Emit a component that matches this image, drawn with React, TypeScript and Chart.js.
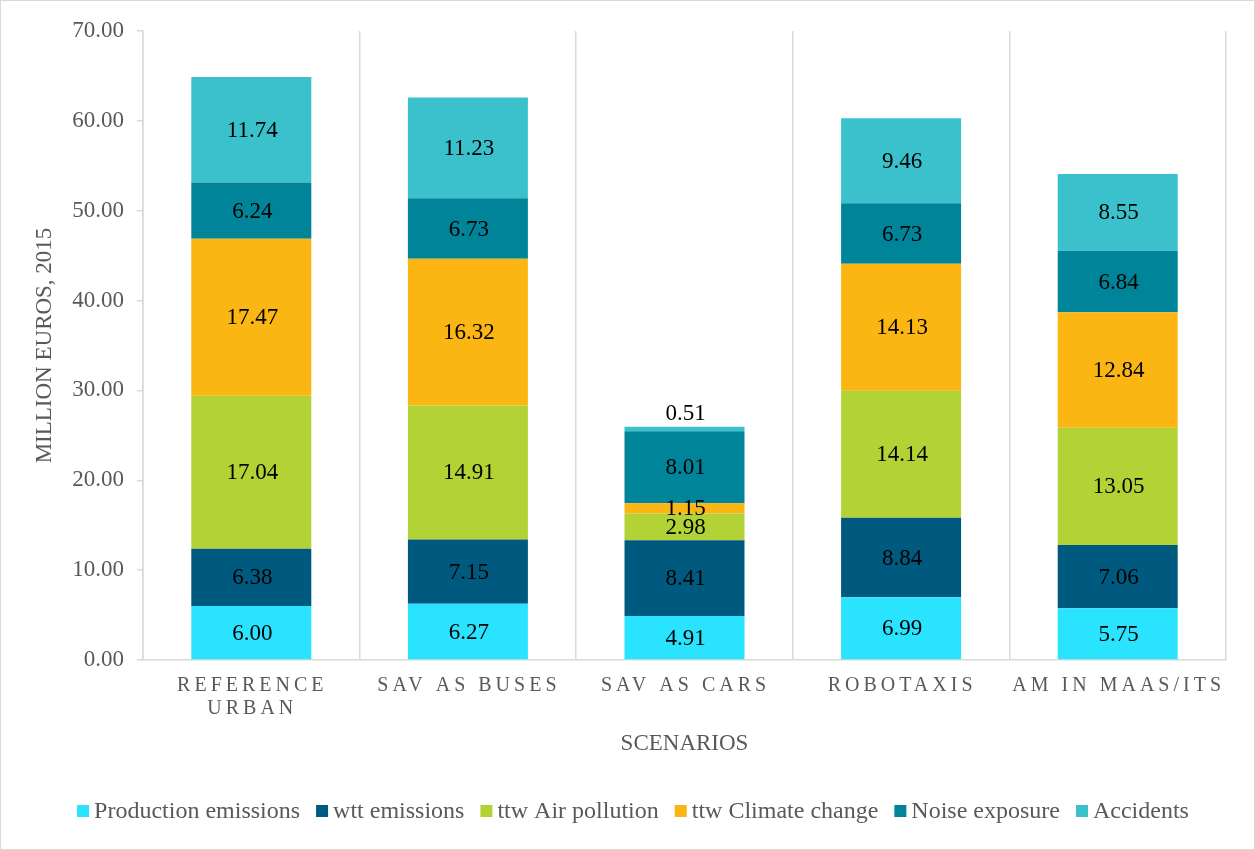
import React, { useEffect, useRef } from 'react';
import { Chart, registerables } from 'chart.js';

Chart.register(...registerables);

const categories: string[][] = [['REFERENCE', 'URBAN'], ['SAV AS BUSES'], ['SAV AS CARS'], ['ROBOTAXIS'], ['AM IN MAAS/ITS']];
const seriesNames = ['Production emissions', 'wtt emissions', 'ttw Air pollution', 'ttw Climate change', 'Noise exposure', 'Accidents'];
const productionEmissions = [6.0, 6.27, 4.91, 6.99, 5.75];
const wttEmissions = [6.38, 7.15, 8.41, 8.84, 7.06];
const ttwAirPollution = [17.04, 14.91, 2.98, 14.14, 13.05];
const ttwClimateChange = [17.47, 16.32, 1.15, 14.13, 12.84];
const noiseExposure = [6.24, 6.73, 8.01, 6.73, 6.84];
const accidents = [11.74, 11.23, 0.51, 9.46, 8.55];
const seriesColors = ['#29E3FF', '#005A7F', '#B2D235', '#FBB614', '#00849A', '#3BC1CC'];
const yMin = 0;
const yMax = 70;
const yStep = 10;

const FONT = "'Liberation Serif', 'Times New Roman', serif";
const GRAY = '#595959';
const LINE = '#d9d9d9';

const labelPlugin = {
  id: 'segLabels',
  afterDatasetsDraw(chart: any) {
    const ctx = chart.ctx;
    ctx.save();
    ctx.font = `23px ${FONT}`;
    ctx.fillStyle = '#000';
    ctx.textAlign = 'center';
    ctx.textBaseline = 'middle';
    const n = chart.data.datasets.length;
    chart.data.datasets.forEach((ds: any, di: number) => {
      const meta = chart.getDatasetMeta(di);
      meta.data.forEach((el: any, i: number) => {
        const v = ds.data[i];
        let y = (el.y + el.base) / 2;
        if (di === n - 1 && v < 1) y = el.y - 14;
        ctx.fillText(v.toFixed(2), el.x + 1, y + 1);
      });
    });
    ctx.restore();
  },
  afterDraw(chart: any) {
    const ctx = chart.ctx;
    const xs = chart.scales.x;
    // x tick labels with letter spacing
    ctx.save();
    ctx.font = `20px ${FONT}`;
    ctx.fillStyle = GRAY;
    ctx.textAlign = 'center';
    ctx.textBaseline = 'middle';
    (ctx as any).letterSpacing = '4px';
    categories.forEach((lines, i) => {
      const x = xs.getPixelForTick(i) + 1;
      lines.forEach((t, li) => {
        ctx.fillText(t, x, chart.chartArea.bottom + 26 + li * 23);
      });
    });
    ctx.restore();
    // legend
    ctx.save();
    ctx.font = `24px ${FONT}`;
    ctx.textBaseline = 'middle';
    ctx.textAlign = 'left';
    const box = 12;
    const gapBox = 5;
    const gapItem = 16;
    const widths = seriesNames.map((s) => ctx.measureText(s).width);
    const total = widths.reduce((a, w) => a + box + gapBox + w, 0) + gapItem * (seriesNames.length - 1);
    let x = 632 - total / 2;
    const cy = 810;
    seriesNames.forEach((s, i) => {
      ctx.fillStyle = seriesColors[i];
      ctx.fillRect(x, cy - box / 2, box, box);
      x += box + gapBox;
      ctx.fillStyle = GRAY;
      ctx.fillText(s, x, cy + 1);
      x += widths[i] + gapItem;
    });
    ctx.restore();
  },
};

export default function App() {
  const ref = useRef<HTMLCanvasElement>(null);
  useEffect(() => {
    if (!ref.current) return;
    const seriesData = [productionEmissions, wttEmissions, ttwAirPollution, ttwClimateChange, noiseExposure, accidents];
    const chart = new Chart(ref.current, {
      type: 'bar',
      data: {
        labels: categories.map((c) => c.join(' ')),
        datasets: seriesNames.map((name, i) => ({
          label: name,
          data: seriesData[i],
          backgroundColor: seriesColors[i],
          borderWidth: 0,
          barPercentage: 0.554,
          categoryPercentage: 1,
        })),
      },
      options: {
        responsive: false,
        animation: false,
        layout: { padding: { top: 30, right: 28, bottom: 59, left: 20 } },
        plugins: {
          legend: { display: false },
          tooltip: { enabled: false },
          title: { display: false },
        },
        scales: {
          x: {
            stacked: true,
            ticks: { display: false },
            grid: { display: true, drawOnChartArea: true, drawTicks: false, color: LINE, lineWidth: 1.5, offset: true },
            border: { display: true, color: LINE, width: 1.5 },
            title: {
              display: true,
              text: 'SCENARIOS',
              color: GRAY,
              font: { family: FONT, size: 23 },
              padding: { top: 0, bottom: 32 },
            },
            afterFit: (s: any) => {
              s.height = 130;
            },
          },
          y: {
            stacked: true,
            min: yMin,
            max: yMax,
            ticks: {
              stepSize: yStep,
              color: GRAY,
              padding: 13,
              font: { family: FONT, size: 23 },
              callback: (v: any) => Number(v).toFixed(2),
            },
            grid: { drawOnChartArea: false, drawTicks: true, tickLength: 6, color: LINE, lineWidth: 1.5 },
            border: { display: true, color: LINE, width: 1.5 },
            title: {
              display: true,
              text: 'MILLION EUROS, 2015',
              color: GRAY,
              font: { family: FONT, size: 23 },
              padding: { top: 10, bottom: 0 },
            },
            afterFit: (s: any) => {
              s.width = 122;
            },
          },
        },
      },
      plugins: [labelPlugin],
    });
    return () => chart.destroy();
  }, []);
  return (
    <div
      style={{
        position: 'fixed',
        left: 0,
        top: 0,
        width: 1255,
        height: 850,
        boxSizing: 'border-box',
        border: '1px solid #d9d9d9',
        background: '#fff',
      }}
    >
      <canvas ref={ref} width={1253} height={848} style={{ display: 'block' }} />
    </div>
  );
}
